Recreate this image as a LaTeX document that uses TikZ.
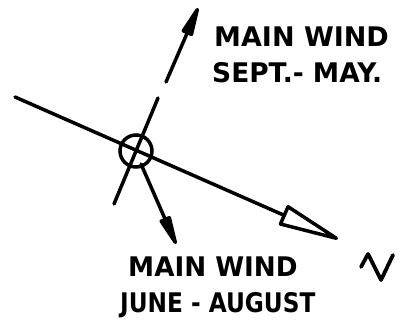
\documentclass[tikz,border=0pt]{standalone}
\usepackage{fontspec}
\setmainfont{DejaVu Sans}
\usetikzlibrary{arrows.meta}
\begin{document}
\begin{tikzpicture}[x=1pt,y=-1pt,
  windline/.style={line width=3.5pt, line cap=round, line join=round},
  lbl/.style={anchor=west, inner sep=0pt, font=\fontsize{27}{30}\selectfont\bfseries},
  solidtip/.style={-{Triangle[length=38pt, width=12pt, round]}},
  hollowtip/.style={-{Triangle[open, length=70pt, width=22pt, round]}}]
\useasboundingbox (0,0) rectangle (411,331);
\coordinate (w) at (15,97);
\coordinate (n) at (338,239);
\coordinate (sw) at (114,204);
\coordinate (g1) at (158,98);
\coordinate (g2) at (166,82);
\coordinate (ne) at (198,8);
\coordinate (s0) at (141,164);
\coordinate (s) at (176,244);
\draw[windline, hollowtip] (w) -- (n);
\draw[windline] (sw) -- (g1);
\draw[windline, solidtip] (g2) -- (ne);
\draw[windline, solidtip] (s0) -- (s);
\node[draw, circle, line width=3.5pt, minimum size=32pt, inner sep=0pt] (hub) at (136,151) {};
\draw[line width=3.8pt, line cap=round, line join=round] (361,267) coordinate (na) -- (368,254) coordinate (nb) -- (381,280) coordinate (nc) -- (393,255) coordinate (nd);
\node[lbl] (t1) at (214,37) {MAIN WIND};
\node[lbl] (t2) at (212,73) {\scalebox{0.98}[1]{SEPT.- MAY.}};
\node[lbl] (b1) at (128,267) {\scalebox{0.97}[1]{MAIN WIND}};
\node[lbl] (b2) at (120,305) {\scalebox{0.86}[1]{JUNE - AUGUST}};
\end{tikzpicture}
\end{document}
